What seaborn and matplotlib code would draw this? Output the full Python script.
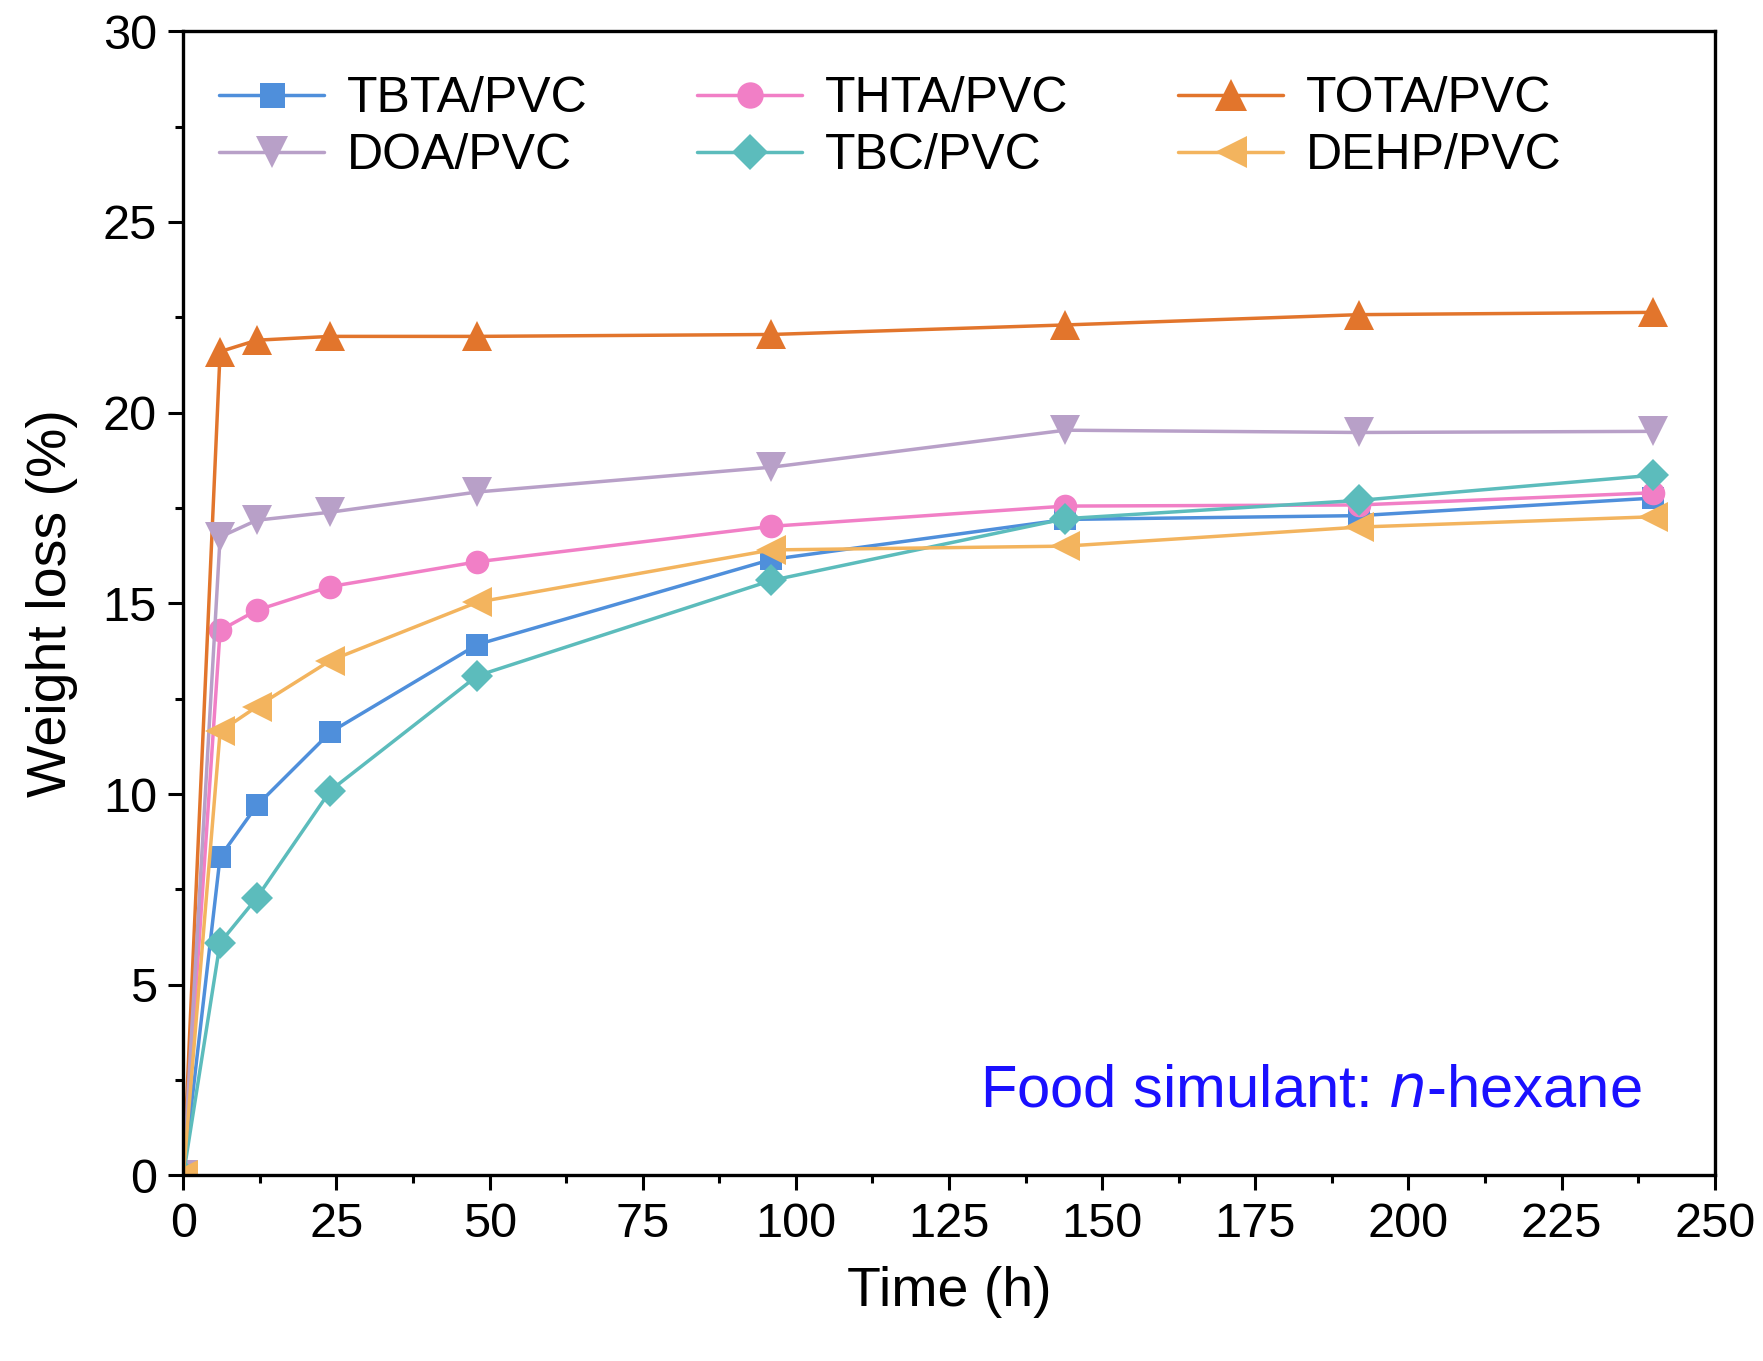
import numpy as np
import pandas as pd
import matplotlib
matplotlib.use("Agg")
import matplotlib.pyplot as plt
import seaborn as sns
from matplotlib.ticker import MultipleLocator

sns.set_style("ticks")
plt.rcParams['font.family'] = ['Liberation Sans', 'DejaVu Sans']
plt.rcParams['text.color'] = 'black'
plt.rcParams['axes.labelcolor'] = 'black'
plt.rcParams['xtick.color'] = 'black'
plt.rcParams['ytick.color'] = 'black'

# temps de prélèvement (h)
time_h = [0, 6, 12, 24, 48, 96, 144, 192, 240]

# perte de masse (%)
tbta = [0, 8.35, 9.7, 11.62, 13.92, 16.15, 17.2, 17.3, 17.76]
thta = [0, 14.29, 14.82, 15.44, 16.09, 17.02, 17.55, 17.58, 17.9]
tota = [0, 21.6, 21.9, 22.0, 22.0, 22.05, 22.3, 22.57, 22.63]
doa = [0, 16.74, 17.18, 17.39, 17.92, 18.57, 19.54, 19.48, 19.51]
tbc = [0, 6.1, 7.28, 10.09, 13.1, 15.6, 17.22, 17.7, 18.36]
dehp = [0, 11.64, 12.29, 13.5, 15.03, 16.4, 16.5, 17.0, 17.27]

names = ["TBTA/PVC", "THTA/PVC", "TOTA/PVC", "DOA/PVC", "TBC/PVC", "DEHP/PVC"]
series = [tbta, thta, tota, doa, tbc, dehp]
colors = ["#4f8fdb", "#f17fc6", "#e2752c", "#b8a0c8", "#5cbcbc", "#f3b45e"]
markers = ["s", "o", "^", "v", "D", "<"]
msizes = [16, 17, 21, 21, 16, 21]  # les triangles paraissent plus petits à taille égale

fig = plt.figure(figsize=(17.63, 13.61), dpi=100)
ax = fig.add_axes([0.104, 0.1364, 0.8686, 0.8406])

handles = []
for name, vals, c, m, ms in zip(names, series, colors, markers, msizes):
    d = pd.DataFrame({"time": time_h, "loss": vals})
    sns.lineplot(data=d, x="time", y="loss", color=c, marker=m, markersize=ms,
                 linewidth=2.5, markeredgewidth=0, ax=ax)
    handles.append(plt.Line2D([], [], color=c, marker=m, markersize=ms + 2,
                              linewidth=2.5, markeredgewidth=0))

ax.set_xlim(0, 250)
ax.set_ylim(0, 30)
ax.xaxis.set_major_locator(MultipleLocator(25))
ax.xaxis.set_minor_locator(MultipleLocator(12.5))
ax.yaxis.set_major_locator(MultipleLocator(5))
ax.yaxis.set_minor_locator(MultipleLocator(2.5))
ax.tick_params(which='major', length=11, width=2.2, labelsize=35, pad=8)
ax.tick_params(which='minor', length=6, width=2.2)
for sp in ax.spines.values():
    sp.set_linewidth(2.4)
    sp.set_color('black')

ax.set_xlabel("Time (h)", fontsize=40, labelpad=14)
ax.set_ylabel("Weight loss (%)", fontsize=40, labelpad=18)

# légende : 3 colonnes, remplie par lignes
order = [0, 3, 1, 4, 2, 5]
ax.legend([handles[i] for i in order], [names[i] for i in order],
          ncol=3, loc='upper left', bbox_to_anchor=(-0.006, 1.0), frameon=False,
          fontsize=36, handlelength=2.1, columnspacing=2.2, labelspacing=0.22,
          handletextpad=0.45)

ax.text(0.952, 0.074, r"Food simulant: $\mathit{n}$-hexane", transform=ax.transAxes,
        ha='right', va='center', fontsize=43, color='#1a10ff')

fig.savefig("out.png", dpi=100)
